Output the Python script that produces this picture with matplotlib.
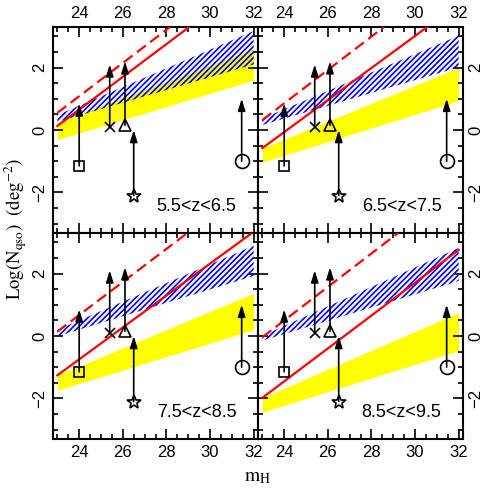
import matplotlib
matplotlib.use("Agg")
import matplotlib.pyplot as plt
from matplotlib.ticker import MultipleLocator, FixedLocator

plt.rcParams['font.family'] = ['Liberation Sans', 'DejaVu Sans']
plt.rcParams['mathtext.fontset'] = 'stix'
plt.rcParams['hatch.linewidth'] = 1.2

# ---- data ----
panel_labels = ['5.5<z<6.5', '6.5<z<7.5', '7.5<z<8.5', '8.5<z<9.5']
x_ends = [23.0, 32.0]
dashed_y = [[0.55, 5.34], [0.32, 5.13], [0.14, 4.91], [-0.04, 4.79]]
solid_y = [[0.13, 4.85], [-0.58, 4.04], [-1.26, 3.34], [-1.98, 2.76]]
blue_lo = [[0.26, 2.10], [0.16, 2.01], [-0.01, 1.92], [-0.15, 1.76]]
blue_hi = [[0.48, 3.17], [0.37, 3.02], [0.20, 2.89], [0.01, 2.82]]
yellow_lo = [[-0.31, 1.60], [-1.03, 0.94], [-1.74, 0.20], [-2.44, -0.47]]
yellow_hi = [[0.24, 2.60], [-0.58, 2.00], [-1.26, 1.37], [-1.98, 0.75]]

# limit points (marker position -> arrow tip)
lim_x = [24.0, 25.4, 26.1, 26.5, 31.45]
lim_y = [-1.15, 0.08, 0.15, -2.1, -1.0]
lim_top = [0.85, 2.1, 2.2, 0.0, 1.0]
lim_marker = ['s', 'x', '^', '*', 'o']
lim_msize = [7, 7, 8, 10, 10]

xticks = [24, 26, 28, 30, 32]
yticks = [-2, 0, 2]

fig, axes = plt.subplots(2, 2, figsize=(4.91, 4.91), dpi=100)
fig.subplots_adjust(left=0.108, right=0.943, top=0.945, bottom=0.106,
                    wspace=0, hspace=0)

for i, ax in enumerate(axes.flat):
    row, col = divmod(i, 2)
    ax.fill_between(x_ends, yellow_lo[i], yellow_hi[i], color='#ffff00',
                    linewidth=0, zorder=1)
    ax.fill_between(x_ends, blue_lo[i], blue_hi[i], facecolor='none',
                    edgecolor='#0000ff', hatch='//////', linewidth=0, zorder=2)
    ax.plot(x_ends, solid_y[i], color='#ff0000', lw=1.6, zorder=3)
    ax.plot(x_ends, dashed_y[i], color='#ff0000', lw=1.6, dashes=(5, 2.5),
            zorder=3)
    for xx, yy, yt, mk, ms in zip(lim_x, lim_y, lim_top, lim_marker, lim_msize):
        ax.annotate('', xy=(xx, yt), xytext=(xx, yy),
                    arrowprops=dict(arrowstyle='-|>,head_length=0.7,head_width=0.22',
                                    lw=1.2, color='k', shrinkA=0, shrinkB=0),
                    zorder=4)
        ax.plot([xx], [yy], marker=mk, ms=ms, mfc='none', mec='k',
                mew=1.2, linestyle='none', zorder=5)
    ax.text(0.70, 0.13, panel_labels[i], transform=ax.transAxes,
            ha='center', va='center', fontsize=13)

    ax.set_xlim(22.8, 32.2)
    ax.set_ylim(-3.3, 3.3)
    ax.xaxis.set_major_locator(FixedLocator(xticks))
    ax.xaxis.set_minor_locator(MultipleLocator(0.5))
    ax.yaxis.set_major_locator(FixedLocator(yticks))
    ax.yaxis.set_minor_locator(MultipleLocator(0.5))
    ax.tick_params(which='both', direction='in', top=True, bottom=True,
                   left=True, right=True, width=1.2, labelsize=12)
    ax.tick_params(which='major', length=7)
    ax.tick_params(which='minor', length=3.5)
    ax.tick_params(axis='x', labeltop=(row == 0), labelbottom=(row == 1), pad=4)
    ax.tick_params(axis='y', labelleft=(col == 0), labelright=(col == 1),
                   labelrotation=90, pad=4)
    for lab in ax.get_yticklabels():
        lab.set_va('center')
    for s in ax.spines.values():
        s.set_linewidth(1.5)

fig.text(0.032, 0.533, r'$\mathrm{Log(N_{qso})\ \ (deg^{-2})}$', rotation=90,
         ha='center', va='center', fontsize=13.5)
fig.text(0.525, 0.027, r'$\mathrm{m_H}$', ha='center', va='center', fontsize=14)

fig.savefig('out.png', dpi=100)
